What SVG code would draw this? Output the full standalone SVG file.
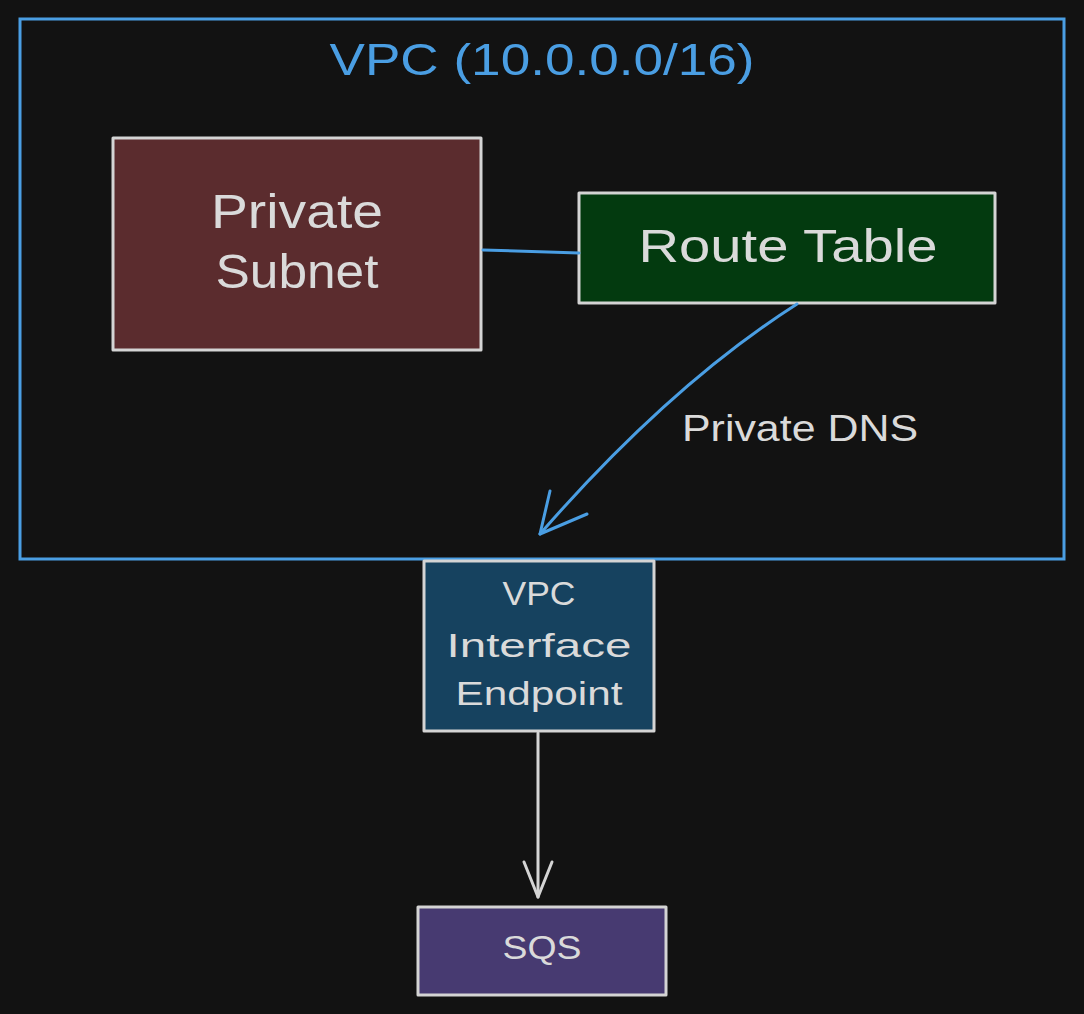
<svg xmlns="http://www.w3.org/2000/svg" width="1084" height="1014" viewBox="0 0 1084 1014">
  <style>
    .box { stroke: #d4d4d4; stroke-width: 3; stroke-linejoin: round; }
    .lbl { font-family: "Liberation Sans", Arial, sans-serif; fill: #dadada; text-anchor: middle; }
    .blue { stroke: #4a9ee3; fill: none; stroke-width: 3; stroke-linecap: round; stroke-linejoin: round; }
    .gray { stroke: #d4d4d4; fill: none; stroke-width: 3; stroke-linecap: round; stroke-linejoin: round; }
  </style>
  <rect x="0" y="0" width="1084" height="1014" fill="#121212"/>

  <g id="vpc">
    <rect x="20" y="19" width="1044" height="540" fill="none" stroke="#4a9ee3" stroke-width="3"/>
    <text class="lbl" x="542" y="75" font-size="45" style="fill:#4a9ee3" textLength="425" lengthAdjust="spacingAndGlyphs">VPC (10.0.0.0/16)</text>
  </g>

  <g id="private-subnet">
    <rect class="box" x="113" y="138" width="368" height="212" fill="#5b2c2e"/>
    <text class="lbl" x="297" y="228" font-size="48" textLength="172" lengthAdjust="spacingAndGlyphs">Private</text>
    <text class="lbl" x="297" y="288" font-size="48" textLength="163" lengthAdjust="spacingAndGlyphs">Subnet</text>
  </g>

  <g id="route-table">
    <rect class="box" x="579" y="193" width="416" height="110" fill="#033a0f"/>
    <text class="lbl" x="788" y="262" font-size="47" textLength="299" lengthAdjust="spacingAndGlyphs">Route Table</text>
  </g>

  <g id="vpc-endpoint">
    <rect class="box" x="424" y="561" width="230" height="170" fill="#16425f"/>
    <text class="lbl" x="539" y="605" font-size="33" textLength="73" lengthAdjust="spacingAndGlyphs">VPC</text>
    <text class="lbl" x="539" y="657" font-size="33" textLength="185" lengthAdjust="spacingAndGlyphs">Interface</text>
    <text class="lbl" x="539" y="705" font-size="33" textLength="167" lengthAdjust="spacingAndGlyphs">Endpoint</text>
  </g>

  <g id="sqs">
    <rect class="box" x="418" y="907" width="248" height="88" fill="#473a71"/>
    <text class="lbl" x="542" y="959" font-size="33" textLength="79" lengthAdjust="spacingAndGlyphs">SQS</text>
  </g>

  <g id="connectors">
    <path class="blue" d="M483,250 L579,253"/>
    <path class="blue" d="M797,304 Q670,385 540,534"/>
    <path class="blue" d="M550,491 L540,534 L587,514"/>
    <text class="lbl" x="800" y="441" font-size="37" textLength="236" lengthAdjust="spacingAndGlyphs">Private DNS</text>
    <path class="gray" d="M538,733 L538,897"/>
    <path class="gray" d="M524,862 L538,897 L552,862"/>
  </g>
</svg>
